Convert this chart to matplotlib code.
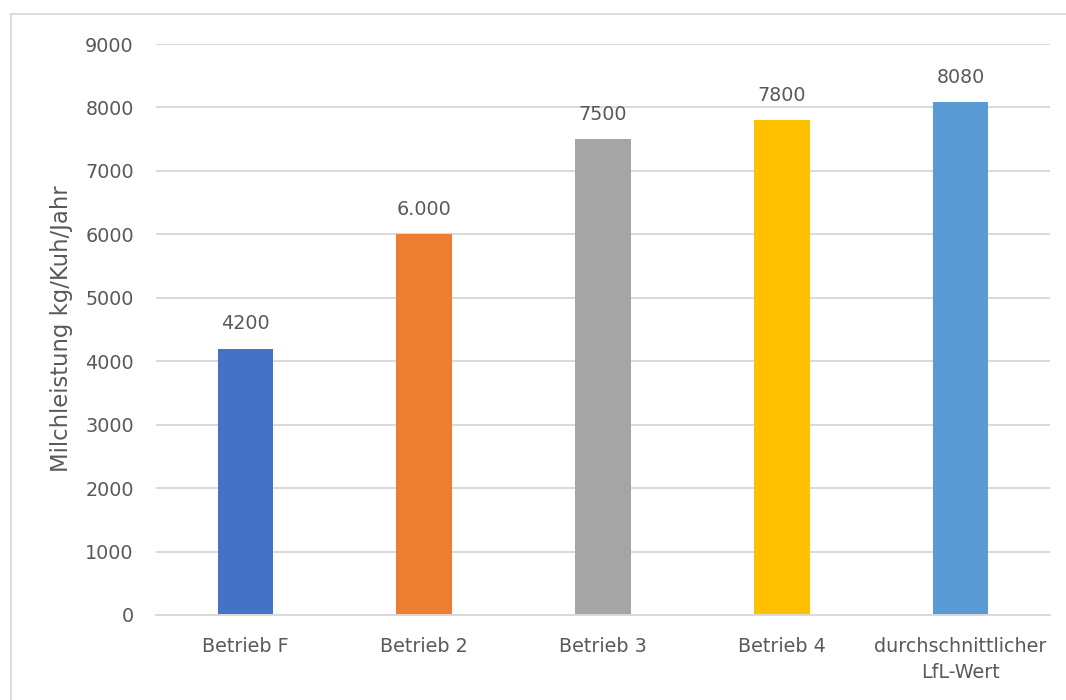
import matplotlib
matplotlib.use("Agg")
import matplotlib.pyplot as plt
from matplotlib.lines import Line2D

categories = ["Betrieb F", "Betrieb 2", "Betrieb 3", "Betrieb 4", "durchschnittlicher\nLfL-Wert"]
values = [4200, 6000, 7500, 7800, 8080]
value_labels = ["4200", "6.000", "7500", "7800", "8080"]
colors = ["#4472C4", "#ED7D31", "#A5A5A5", "#FFC000", "#5B9BD5"]
yticks = [0, 1000, 2000, 3000, 4000, 5000, 6000, 7000, 8000, 9000]
ylabel = "Milchleistung kg/Kuh/Jahr"

plt.rcParams['font.family'] = ['DejaVu Sans']
TXT = "#595959"
GRID = "#D9D9D9"

W, H = 1066, 700
fig = plt.figure(figsize=(W / 100, H / 100), dpi=100)
ax = fig.add_axes([156 / W, 1 - 615 / H, (1050 - 156) / W, (615 - 44) / H])

x = list(range(len(categories)))
ax.bar(x, values, width=0.31, color=colors, zorder=3)
ax.set_xlim(-0.5, len(categories) - 0.5)
ax.set_ylim(0, 9000)
ax.set_yticks(yticks)
ax.set_yticklabels([str(v) for v in yticks])
ax.set_xticks(x)
ax.set_xticklabels(categories, linespacing=1.45)

ax.grid(axis='y', color=GRID, linewidth=1.4, zorder=0)
for s in ['top', 'right', 'left']:
    ax.spines[s].set_visible(False)
ax.spines['bottom'].set_color(GRID)
ax.spines['bottom'].set_linewidth(1.4)
ax.spines['bottom'].set_zorder(4)

ax.tick_params(axis='both', length=0, labelsize=13.8, colors=TXT)
ax.tick_params(axis='y', pad=16)
ax.tick_params(axis='x', pad=16)

for xi, v, lab in zip(x, values, value_labels):
    ax.annotate(lab, (xi, v), xytext=(0, 11), textcoords='offset points',
                ha='center', va='bottom', fontsize=13.8, color=TXT)

fig.text(62 / W, 1 - 329 / H, ylabel, rotation=90, ha='center', va='center',
         fontsize=16.4, color=TXT)

# outer chart frame (partially visible)
fig.add_artist(Line2D([11 / W, 1.0], [1 - 14 / H, 1 - 14 / H], transform=fig.transFigure,
                      color=GRID, linewidth=1.3))
fig.add_artist(Line2D([11 / W, 11 / W], [0.0, 1 - 14 / H], transform=fig.transFigure,
                      color=GRID, linewidth=1.3))

fig.savefig("out.png", dpi=100, facecolor="white")
